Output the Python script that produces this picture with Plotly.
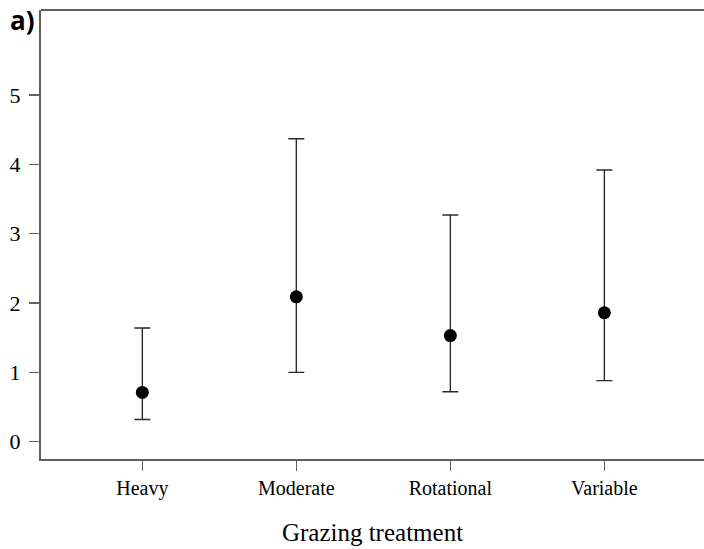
import plotly.graph_objects as go

# Grazing treatments and their estimated means with interval bounds
treatments = ["Heavy", "Moderate", "Rotational", "Variable"]
means = [0.71, 2.09, 1.53, 1.86]
upper = [1.64, 4.37, 3.27, 3.92]
lower = [0.32, 1.00, 0.72, 0.88]
y_ticks = [0, 1, 2, 3, 4, 5]

positions = list(range(1, len(treatments) + 1))
err_plus = [u - m for u, m in zip(upper, means)]
err_minus = [m - l for m, l in zip(means, lower)]

axis_grey = "#5f5f5f"
serif = "Liberation Serif, Times New Roman, serif"

fig = go.Figure()
fig.add_trace(go.Scatter(
    x=positions,
    y=means,
    mode="markers",
    marker=dict(color="black", size=13, symbol="circle"),
    error_y=dict(
        type="data",
        symmetric=False,
        array=err_plus,
        arrayminus=err_minus,
        color="#2b2b2b",
        thickness=1.4,
        width=8,
    ),
    showlegend=False,
))

fig.update_layout(
    width=704,
    height=549,
    margin=dict(l=41, r=0, t=10, b=90),
    paper_bgcolor="white",
    plot_bgcolor="white",
    font=dict(family=serif, color="black"),
    xaxis=dict(
        range=[0.342, 4.647],
        tickmode="array",
        tickvals=positions,
        ticktext=treatments,
        ticks="outside",
        ticklen=10,
        tickwidth=1.5,
        tickcolor=axis_grey,
        tickfont=dict(family=serif, size=20, color="black"),
        showline=True,
        linecolor=axis_grey,
        linewidth=2,
        showgrid=False,
        zeroline=False,
        title=dict(text="Grazing treatment",
                   font=dict(family=serif, size=25, color="black"),
                   standoff=24),
    ),
    yaxis=dict(
        range=[-0.25, 6.227],
        tickmode="array",
        tickvals=y_ticks,
        ticktext=[str(v) for v in y_ticks],
        ticks="outside",
        ticklen=10,
        tickwidth=1.5,
        tickcolor=axis_grey,
        tickfont=dict(family=serif, size=22, color="black"),
        ticklabelstandoff=4,
        showline=True,
        linecolor=axis_grey,
        linewidth=2,
        showgrid=False,
        zeroline=False,
    ),
)

# Top edge of the panel frame
fig.add_shape(
    type="line",
    xref="paper", yref="paper",
    x0=0, x1=1.0, y0=1, y1=1,
    line=dict(color=axis_grey, width=2),
)

# Panel label
fig.add_annotation(
    text="<b>a)</b>",
    xref="paper", yref="paper",
    x=-41 / 663 + 8 / 663, y=1.0,
    xanchor="left", yanchor="top",
    yshift=10,
    showarrow=False,
    font=dict(family="Open Sans, Liberation Sans, sans-serif", size=26, color="black"),
)

fig.write_html("out.html", config={"staticPlot": True, "displayModeBar": False})
